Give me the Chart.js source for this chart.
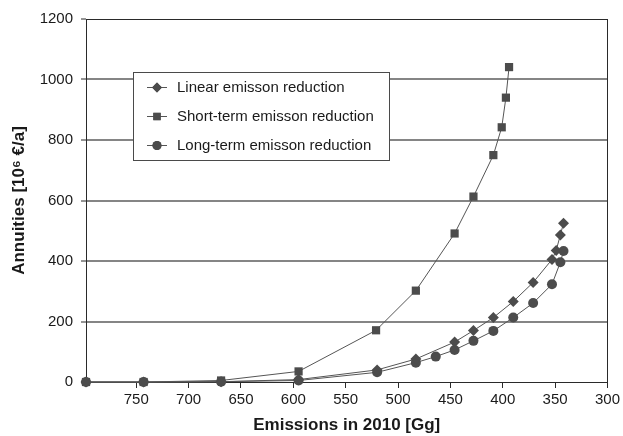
<!DOCTYPE html>
<html>
<head>
<meta charset="utf-8">
<title>Annuities vs. emissions</title>
<script src="https://cdn.jsdelivr.net/npm/chart.js@4.4.0/dist/chart.umd.min.js"></script>
<style>
    html, body { margin: 0; padding: 0; background: #fff; }
    #wrap { width: 623px; height: 436px; position: relative; }
</style>
</head>
<body>
<div id="wrap"><canvas id="annuityChart"></canvas></div>
<script>
// Emissions in 2010 [Gg] and annuities [10^6 €/a]
const linearEmissions = [798, 743, 669, 595, 520, 483, 446, 428, 409, 390, 371, 353, 349, 345, 342];
const linearAnnuities = [0, 0, 1, 8, 40, 76, 132, 170, 213, 266, 329, 405, 435, 486, 525];

const shortEmissions = [798, 743, 669, 595, 521, 483, 446, 428, 409, 401, 397, 394];
const shortAnnuities = [0, 0, 5, 35, 171, 302, 491, 613, 750, 842, 940, 1041];

const longEmissions = [798, 743, 669, 595, 520, 483, 464, 446, 428, 409, 390, 371, 353, 345, 342];
const longAnnuities = [0, 0, 1, 5, 32, 64, 84, 106, 136, 169, 213, 261, 323, 396, 433];

const seriesLabels = ['Linear emisson reduction', 'Short-term emisson reduction', 'Long-term emisson reduction'];
const seriesMarkers = ['rectRot', 'rect', 'circle'];

const xTicks = [750, 700, 650, 600, 550, 500, 450, 400, 350, 300];
const yTicks = [0, 200, 400, 600, 800, 1000, 1200];

// Colours of the grey print figure
const colors = {
    marker: '#4c4c4c',
    line: '#555555',
    grid: '#858585',
    frame: '#2a2a2a',
    text: '#1a1a1a'
};

const FONT = "'Liberation Sans', Arial, Helvetica, sans-serif";

// marker sizes (Chart.js point radius)
const markerRadius = { rectRot: 5.5, rect: 5.8, circle: 5 };

/**
 * Zip two arrays into {x, y} points
 */
function toPoints(xs, ys) {
    return xs.map((x, i) => ({ x: x, y: ys[i] }));
}

function makeDataset(label, marker, xs, ys) {
    return {
        label: label,
        data: toPoints(xs, ys),
        borderColor: colors.line,
        borderWidth: 1,
        backgroundColor: colors.marker,
        pointStyle: marker,
        pointRadius: markerRadius[marker],
        pointBackgroundColor: colors.marker,
        pointBorderColor: colors.marker,
        pointBorderWidth: 0,
        showLine: true,
        tension: 0,
        clip: false
    };
}

/**
 * Frame round the plot area (axes plus top and right border)
 */
const plotFrame = {
    id: 'plotFrame',
    beforeDatasetsDraw(chart) {
        const { ctx, chartArea: a } = chart;
        ctx.save();
        ctx.strokeStyle = colors.frame;
        ctx.lineWidth = 1;
        ctx.strokeRect(Math.round(a.left) + 0.5, Math.round(a.top) + 0.5,
            Math.round(a.right - a.left), Math.round(a.bottom - a.top));
        ctx.restore();
    }
};

/**
 * Small marker used in the legend box
 */
function drawMarker(ctx, style, x, y, r) {
    if (Chart.helpers && Chart.helpers.drawPoint) {
        Chart.helpers.drawPoint(ctx, { pointStyle: style, radius: r, rotation: 0, borderWidth: 0 }, x, y);
        ctx.fill();
        return;
    }
    ctx.beginPath();
    if (style === 'circle') {
        ctx.arc(x, y, r, 0, Math.PI * 2);
    } else if (style === 'rect') {
        ctx.rect(x - r * 0.7, y - r * 0.7, r * 1.4, r * 1.4);
    } else {
        ctx.moveTo(x, y - r); ctx.lineTo(x + r, y); ctx.lineTo(x, y + r); ctx.lineTo(x - r, y);
        ctx.closePath();
    }
    ctx.fill();
}

/**
 * Legend drawn inside the plot, like the original figure
 */
const insideLegend = {
    id: 'insideLegend',
    afterDraw(chart) {
        const { ctx, chartArea: a } = chart;
        const x0 = Math.round(a.left) + 47;
        const y0 = Math.round(a.top) + 53;
        const w = 256, h = 88;

        ctx.save();
        ctx.fillStyle = '#fff';
        ctx.fillRect(x0, y0, w, h);
        ctx.strokeStyle = '#4a4a4a';
        ctx.lineWidth = 1;
        ctx.strokeRect(x0 + 0.5, y0 + 0.5, w, h);

        ctx.font = '15px ' + FONT;
        ctx.textBaseline = 'middle';
        ctx.textAlign = 'left';

        chart.data.datasets.forEach((ds, i) => {
            const y = y0 + 15 + i * 29;
            ctx.strokeStyle = colors.line;
            ctx.beginPath();
            ctx.moveTo(x0 + 14, y + 0.5);
            ctx.lineTo(x0 + 34, y + 0.5);
            ctx.stroke();
            ctx.fillStyle = colors.marker;
            drawMarker(ctx, ds.pointStyle, x0 + 24, y + 0.5, ds.pointRadius * 0.9);
            ctx.fillStyle = colors.text;
            ctx.fillText(ds.label, x0 + 44, y + 1);
        });
        ctx.restore();
    }
};

function initAnnuityChart() {
    const canvas = document.getElementById('annuityChart');
    const ctx = canvas.getContext('2d');

    return new Chart(ctx, {
        type: 'scatter',
        data: {
            datasets: [
                makeDataset(seriesLabels[0], seriesMarkers[0], linearEmissions, linearAnnuities),
                makeDataset(seriesLabels[1], seriesMarkers[1], shortEmissions, shortAnnuities),
                makeDataset(seriesLabels[2], seriesMarkers[2], longEmissions, longAnnuities)
            ]
        },
        options: {
            responsive: true,
            maintainAspectRatio: false,
            devicePixelRatio: 1,
            animation: false,
            layout: { padding: { top: 19, right: 15, bottom: 0, left: 0 } },
            plugins: {
                legend: { display: false },
                tooltip: { enabled: false }
            },
            scales: {
                x: {
                    type: 'linear',
                    reverse: true,
                    min: 300,
                    max: 798,
                    afterBuildTicks: (scale) => {
                        scale.ticks = xTicks.map(v => ({ value: v }));
                    },
                    afterFit: (scale) => { scale.height = 54; },
                    border: { display: false },
                    grid: {
                        drawOnChartArea: false,
                        drawTicks: true,
                        tickLength: 6,
                        tickColor: colors.frame,
                        tickWidth: 1
                    },
                    ticks: {
                        color: colors.text,
                        font: { family: FONT, size: 15 },
                        padding: 3,
                        maxRotation: 0,
                        autoSkip: false,
                        callback: (v) => String(v)
                    },
                    title: {
                        display: true,
                        text: 'Emissions in 2010 [Gg]',
                        color: colors.text,
                        font: { family: FONT, size: 17, weight: 'bold' },
                        padding: { top: 0, bottom: 0 }
                    }
                },
                y: {
                    type: 'linear',
                    min: 0,
                    max: 1200,
                    afterBuildTicks: (scale) => {
                        scale.ticks = yTicks.map(v => ({ value: v }));
                    },
                    afterFit: (scale) => { scale.width = 86; },
                    border: { display: false },
                    grid: {
                        color: (c) => (c.tick && (c.tick.value === 0 || c.tick.value === 1200))
                            ? 'rgba(0,0,0,0)' : colors.grid,
                        lineWidth: 2,
                        drawTicks: true,
                        tickLength: 5,
                        tickColor: colors.frame,
                        tickWidth: 1
                    },
                    ticks: {
                        color: colors.text,
                        font: { family: FONT, size: 15 },
                        padding: 8,
                        callback: (v) => String(v)
                    },
                    title: {
                        display: true,
                        text: 'Annuities [10\u2076 \u20AC/a]',
                        color: colors.text,
                        font: { family: FONT, size: 17, weight: 'bold' },
                        padding: { top: 9, bottom: 0 }
                    }
                }
            }
        },
        plugins: [plotFrame, insideLegend]
    });
}

initAnnuityChart();
</script>
</body>
</html>
